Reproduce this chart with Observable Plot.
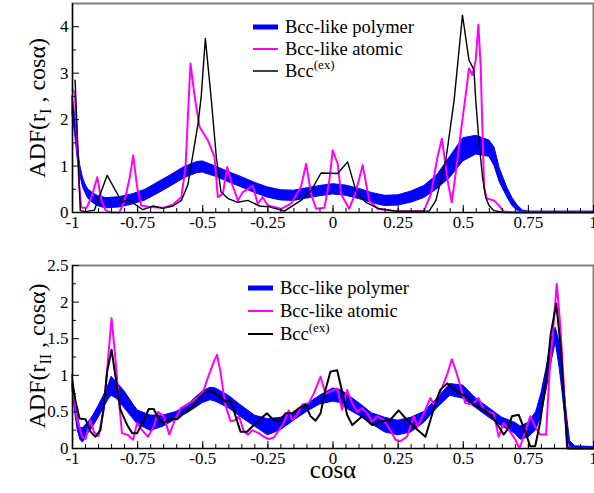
<!DOCTYPE html>
<html><head><meta charset="utf-8">
<script src="https://cdn.jsdelivr.net/npm/d3@7"></script>
<script src="https://cdn.jsdelivr.net/npm/@observablehq/plot@0.6"></script>
<style>
body{margin:0;background:#fff;}
#wrap{position:relative;width:594px;height:493px;overflow:hidden;font-family:"Liberation Serif","Times New Roman",serif;}
#wrap svg.pl{position:absolute;left:0;}
#ov{position:absolute;left:0;top:0;pointer-events:none;}
</style></head><body><div id="wrap"></div>
<script>
// ---------- tick labels ----------
const xTicks = [-1, -0.75, -0.5, -0.25, 0, 0.25, 0.5, 0.75, 1];
const topYTicks = [0, 1, 2, 3, 4];
const topYMinor = [0.5, 1.5, 2.5, 3.5];
const botYTicks = [0, 0.5, 1, 1.5, 2, 2.5];
const botYMinor = [0.25, 0.75, 1.25, 1.75, 2.25];
const legendLabels = ["Bcc-like polymer", "Bcc-like atomic", "Bcc"];
const legendSup = "(ex)";

// ---------- top panel (r_I) ----------
const topPolyX  = [-1,-0.99,-0.98,-0.97,-0.96,-0.95,-0.94,-0.92,-0.9,-0.87,-0.82,-0.77,-0.72,-0.67,-0.62,-0.57,-0.52,-0.5,-0.45,-0.4,-0.35,-0.3,-0.25,-0.2,-0.15,-0.1,-0.05,0,0.05,0.1,0.15,0.2,0.25,0.3,0.35,0.4,0.45,0.5,0.55,0.6,0.62,0.64,0.67,0.69,0.71,0.73,0.75,1.0];
const topPolyLo = [2.1,1.7,1.15,0.8,0.55,0.42,0.3,0.2,0.13,0.09,0.11,0.17,0.26,0.41,0.57,0.74,0.85,0.86,0.77,0.65,0.54,0.42,0.32,0.26,0.25,0.3,0.35,0.39,0.36,0.29,0.2,0.14,0.15,0.21,0.31,0.5,0.75,1.1,1.25,1.2,1.0,0.65,0.32,0.13,0.03,0,0,0];
const topPolyHi = [2.5,2.1,1.45,1.0,0.75,0.6,0.5,0.41,0.35,0.31,0.33,0.39,0.49,0.65,0.81,0.98,1.09,1.1,0.99,0.87,0.76,0.64,0.54,0.48,0.47,0.52,0.57,0.61,0.58,0.51,0.42,0.36,0.37,0.45,0.57,0.8,1.2,1.6,1.65,1.55,1.4,0.95,0.52,0.3,0.14,0.04,0.02,0.02];

const topAtomX = [-1,-0.991,-0.974,-0.966,-0.946,-0.927,-0.905,-0.889,-0.872,-0.85,-0.82,-0.8,-0.78,-0.767,-0.752,-0.736,-0.704,-0.653,-0.614,-0.582,-0.566,-0.554,-0.547,-0.531,-0.512,-0.48,-0.455,-0.442,-0.423,-0.406,-0.39,-0.365,-0.346,-0.308,-0.289,-0.27,-0.25,-0.199,-0.161,-0.123,-0.103,-0.084,-0.065,-0.033,-0.014,-0.001,0.018,0.031,0.062,0.088,0.114,0.139,0.171,0.25,0.349,0.376,0.401,0.418,0.44,0.456,0.471,0.49,0.51,0.522,0.535,0.548,0.558,0.567,0.574,0.58,0.59,0.618,0.637,0.656,0.7,1.0];
const topAtomY = [2.65,2.57,0.55,0.11,0.1,0.33,0.76,0.26,0.04,0.0,0.0,0.26,0.76,1.23,0.55,0.15,0.12,0.1,0.17,0.33,0.98,2.42,3.21,2.49,1.84,1.55,1.2,0.33,0.4,0.98,0.65,0.26,0.44,0.58,0.19,0.33,0.15,0.08,0.19,0.55,1.05,0.4,0.08,0.1,0.69,1.34,1.05,0.4,0.08,0.45,1.02,0.26,0.08,0.02,0.03,0.4,1.19,1.59,0.69,0.22,0.84,1.7,2.56,3.1,2.96,3.28,4.04,3.14,1.7,0.55,0.3,0.26,0.15,0.02,0.0,0.0];

const topExX = [-0.99,-0.97,-0.95,-0.916,-0.867,-0.81,-0.787,-0.73,-0.69,-0.653,-0.614,-0.582,-0.557,-0.518,-0.506,-0.49,-0.467,-0.448,-0.43,-0.403,-0.365,-0.327,-0.282,-0.244,-0.187,-0.123,-0.084,-0.046,0.018,0.056,0.088,0.126,0.178,0.241,0.369,0.395,0.433,0.465,0.497,0.522,0.541,0.548,0.56,0.574,0.586,0.599,0.618,0.655,1.0];
const topExY = [2.85,0.04,0.02,0.05,0.8,0.22,0.28,0.06,0.14,0.09,0.14,0.26,0.6,1.92,2.49,3.75,2.42,1.2,0.44,0.3,0.22,0.26,0.14,0.12,0.03,0.26,0.47,0.85,0.84,1.09,0.47,0.22,0.08,0.03,0.03,0.26,1.12,2.42,4.25,3.28,3.07,2.42,1.55,0.76,0.33,0.15,0.04,0.0,0.0];

// ---------- bottom panel (r_II) ----------
const botPolyX  = [-1,-0.99,-0.98,-0.97,-0.96,-0.94,-0.92,-0.9,-0.88,-0.86,-0.85,-0.83,-0.8,-0.77,-0.75,-0.7,-0.65,-0.6,-0.55,-0.5,-0.47,-0.45,-0.4,-0.35,-0.3,-0.25,-0.2,-0.15,-0.1,-0.05,0,0.03,0.05,0.1,0.15,0.2,0.25,0.3,0.35,0.4,0.45,0.5,0.55,0.6,0.65,0.7,0.72,0.75,0.78,0.8,0.82,0.84,0.855,0.87,0.88,0.9,0.91,0.93,1.0];
const botPolyLo = [0.8,0.5,0.25,0.12,0.08,0.2,0.3,0.42,0.55,0.68,0.72,0.68,0.55,0.42,0.33,0.24,0.3,0.4,0.5,0.62,0.66,0.64,0.55,0.42,0.3,0.18,0.25,0.38,0.5,0.6,0.64,0.62,0.55,0.45,0.33,0.22,0.18,0.22,0.35,0.55,0.72,0.68,0.55,0.42,0.3,0.2,0.12,0.15,0.25,0.45,0.8,1.2,1.45,1.1,0.8,0.15,0.02,0,0];
const botPolyHi = [1.0,0.75,0.45,0.28,0.28,0.35,0.45,0.58,0.72,0.88,0.98,0.9,0.78,0.62,0.52,0.45,0.45,0.5,0.62,0.78,0.83,0.82,0.72,0.58,0.45,0.4,0.42,0.48,0.6,0.72,0.82,0.8,0.75,0.62,0.48,0.42,0.38,0.42,0.5,0.68,0.88,0.86,0.68,0.55,0.42,0.35,0.3,0.35,0.5,0.75,1.1,1.5,1.65,1.45,1.1,0.4,0.1,0.03,0.02];

const botAtomX = [-1,-0.982,-0.963,-0.95,-0.931,-0.918,-0.9,-0.88,-0.863,-0.85,-0.837,-0.822,-0.81,-0.79,-0.767,-0.752,-0.733,-0.71,-0.688,-0.671,-0.65,-0.628,-0.607,-0.585,-0.56,-0.534,-0.515,-0.496,-0.477,-0.457,-0.445,-0.432,-0.415,-0.393,-0.374,-0.361,-0.342,-0.326,-0.31,-0.285,-0.266,-0.246,-0.227,-0.208,-0.189,-0.17,-0.157,-0.138,-0.118,-0.093,-0.074,-0.048,-0.029,0.003,0.016,0.035,0.054,0.074,0.093,0.112,0.131,0.15,0.169,0.195,0.22,0.24,0.259,0.284,0.31,0.325,0.348,0.374,0.387,0.406,0.425,0.44,0.456,0.473,0.489,0.508,0.534,0.559,0.578,0.597,0.617,0.636,0.655,0.68,0.7,0.716,0.738,0.757,0.776,0.795,0.818,0.831,0.847,0.859,0.872,0.885,0.898,0.917,1.0];
const botAtomY = [0.84,0.39,0.16,0.13,0.39,0.23,0.17,0.53,1.25,1.78,1.3,0.66,0.21,0.19,0.12,0.35,0.25,0.16,0.3,0.5,0.44,0.19,0.39,0.55,0.6,0.66,0.71,0.8,1.0,1.19,1.28,1.05,0.62,0.37,0.39,0.44,0.23,0.19,0.25,0.21,0.16,0.13,0.15,0.25,0.35,0.52,0.39,0.46,0.6,0.62,0.75,0.98,0.75,0.8,0.82,0.53,0.8,0.62,0.5,0.55,0.48,0.37,0.44,0.39,0.25,0.12,0.1,0.16,0.44,0.3,0.48,0.69,0.6,0.73,0.89,1.03,1.22,1.05,0.85,0.62,0.6,0.69,0.53,0.5,0.48,0.16,0.35,0.23,0.12,0.0,0.23,0.44,0.3,0.19,0.19,1.03,1.71,2.25,1.71,0.94,0.03,0.0,0.0];

const botExX = [-1,-0.989,-0.973,-0.95,-0.931,-0.912,-0.893,-0.88,-0.867,-0.85,-0.835,-0.816,-0.79,-0.771,-0.752,-0.726,-0.707,-0.688,-0.669,-0.65,-0.624,-0.598,-0.573,-0.541,-0.515,-0.489,-0.464,-0.438,-0.413,-0.393,-0.374,-0.355,-0.33,-0.304,-0.278,-0.253,-0.234,-0.208,-0.182,-0.157,-0.131,-0.106,-0.086,-0.067,-0.048,-0.029,-0.01,0.016,0.035,0.054,0.074,0.112,0.15,0.182,0.22,0.252,0.284,0.316,0.355,0.374,0.397,0.412,0.438,0.463,0.489,0.514,0.54,0.565,0.591,0.617,0.636,0.655,0.668,0.687,0.713,0.738,0.757,0.776,0.795,0.818,0.836,0.857,0.875,0.891,0.9,1.0];
const botExY = [0.87,0.66,0.41,0.4,0.23,0.16,0.25,0.57,1.05,1.35,0.98,0.53,0.32,0.21,0.21,0.39,0.54,0.54,0.4,0.35,0.41,0.4,0.48,0.57,0.69,0.78,0.78,0.71,0.64,0.66,0.44,0.23,0.23,0.32,0.41,0.48,0.41,0.37,0.48,0.48,0.55,0.6,0.44,0.38,0.48,0.8,1.05,1.07,0.78,0.46,0.32,0.44,0.32,0.37,0.39,0.52,0.39,0.28,0.16,0.39,0.66,0.8,0.89,0.82,0.75,0.71,0.6,0.55,0.5,0.41,0.3,0.19,0.25,0.44,0.46,0.23,0.03,0.03,0.35,0.94,1.57,1.98,1.35,0.48,0.0,0.0];

// ---------- drawing ----------
const W = 594, ML = 72, MR = 1;
const xMinor = d3.range(-1, 1.0001, 0.05);
const fmt = d => String(d);

function panel({height, marginTop, marginBottom, yDomain, yTicks, yMinor, px, lo, hi, ax, ay, ex, ey, exW}) {
  const plotH = height - marginTop - marginBottom;
  const plotW = W - ML - MR;
  const poly = px.map((x, i) => ({x, lo: lo[i], hi: hi[i]}));
  const atom = ax.map((x, i) => ({x, y: ay[i]}));
  const exd = ex.map((x, i) => ({x, y: ey[i]}));
  return Plot.plot({
    width: W, height, marginLeft: ML, marginRight: MR, marginTop, marginBottom,
    style: {fontFamily: "Liberation Serif, Times New Roman, serif", fontSize: "17px", color: "black", background: "transparent", overflow: "visible"},
    x: {domain: [-1, 1], label: null},
    y: {domain: yDomain, label: null},
    marks: [
      Plot.frame({stroke: "#808080", strokeWidth: 2}),
      Plot.areaY(poly, {x: "x", y1: "lo", y2: "hi", fill: "#0000ff", stroke: "#0000ff", strokeWidth: 1}),
      Plot.line(atom, {x: "x", y: "y", stroke: "#ff00ff", strokeWidth: 2}),
      Plot.line(exd, {x: "x", y: "y", stroke: "black", strokeWidth: exW}),
      Plot.ruleX([-1], {stroke: "black", strokeWidth: 1.2}),
      Plot.ruleY([0], {stroke: "black", strokeWidth: 1.2}),
      Plot.ruleX(xTicks, {x: d => d, insetTop: plotH - 7, stroke: "black"}),
      Plot.ruleX(xMinor, {x: d => d, insetTop: plotH - 4, stroke: "black"}),
      Plot.ruleY(yTicks, {y: d => d, insetRight: plotW - 7, stroke: "black"}),
      Plot.ruleY(yMinor, {y: d => d, insetRight: plotW - 4, stroke: "black"}),
      Plot.axisX({ticks: xTicks, tickSize: 0, tickPadding: 3, tickFormat: fmt}),
      Plot.axisY({ticks: yTicks, tickSize: 0, tickPadding: 4, tickFormat: fmt})
    ]
  });
}

const wrap = document.getElementById("wrap");
const top1 = panel({height: 240, marginTop: 3, marginBottom: 28, yDomain: [0, 4.5], yTicks: topYTicks, yMinor: topYMinor,
  px: topPolyX, lo: topPolyLo, hi: topPolyHi, ax: topAtomX, ay: topAtomY, ex: topExX, ey: topExY, exW: 1.4});
top1.classList.add("pl"); top1.style.top = "0px";
const bot1 = panel({height: 253, marginTop: 25, marginBottom: 45, yDomain: [0, 2.5], yTicks: botYTicks, yMinor: botYMinor,
  px: botPolyX, lo: botPolyLo, hi: botPolyHi, ax: botAtomX, ay: botAtomY, ex: botExX, ey: botExY, exW: 2});
bot1.classList.add("pl"); bot1.style.top = "240px";
wrap.appendChild(top1);
wrap.appendChild(bot1);

// overlay: axis titles and legends
const ov = d3.select(wrap).append("svg").attr("id", "ov").attr("width", W).attr("height", 493)
  .style("font-family", "Liberation Serif, Times New Roman, serif");

function yTitle(cx, cy, sub) {
  const t = ov.append("text").attr("transform", `translate(${cx},${cy}) rotate(-90)`)
    .attr("text-anchor", "middle").style("font-size", "24px").attr("fill", "black");
  t.append("tspan").text("ADF(r");
  t.append("tspan").attr("dy", 6).style("font-size", "16px").text(sub);
  t.append("tspan").attr("dy", -6).text(" , cosα)");
}
yTitle(45, 108, "I");
yTitle(45, 356, "II");

ov.append("text").attr("x", 333).attr("y", 478).attr("text-anchor", "middle")
  .style("font-size", "25px").text("cosα");

function legend(x0, x1, tx, ys, exW) {
  const styles = [{c: "#0000ff", w: 5}, {c: "#ff00ff", w: 2}, {c: "black", w: exW}];
  legendLabels.forEach((lab, i) => {
    ov.append("line").attr("x1", x0).attr("x2", x1).attr("y1", ys[i]).attr("y2", ys[i])
      .attr("stroke", styles[i].c).attr("stroke-width", styles[i].w);
    const t = ov.append("text").attr("x", tx).attr("y", ys[i] + 6).style("font-size", "18.5px");
    t.append("tspan").text(lab);
    if (i === 2) t.append("tspan").attr("dy", -8).style("font-size", "13px").text(legendSup);
  });
}
legend(253, 278, 285, [27, 49, 71], 1.5);
legend(248, 273, 280, [288, 311, 334], 2);
</script></body></html>
